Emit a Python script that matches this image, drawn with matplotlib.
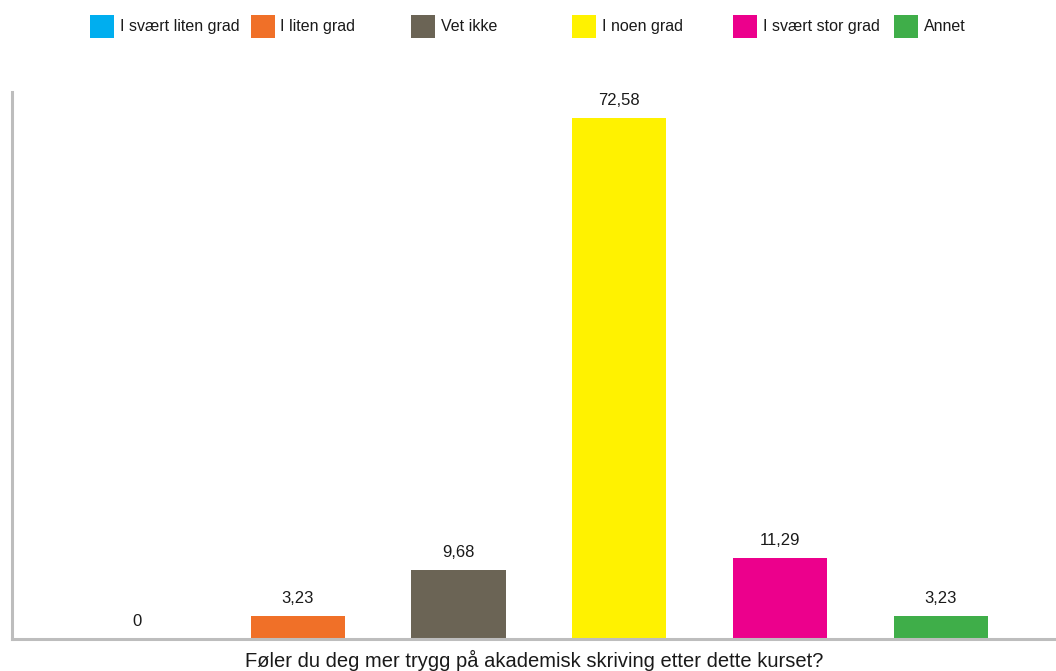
import numpy as np
import matplotlib.pyplot as plt
from matplotlib.patches import Rectangle
from matplotlib.transforms import blended_transform_factory

plt.rcParams['font.family'] = ['Liberation Sans', 'DejaVu Sans']

categories = ['I svært liten grad', 'I liten grad', 'Vet ikke',
              'I noen grad', 'I svært stor grad', 'Annet']
values = [0, 3.23, 9.68, 72.58, 11.29, 3.23]
value_labels = ['0', '3,23', '9,68', '72,58', '11,29', '3,23']
colors = ['#00aeef', '#f07028', '#6b6455', '#fff200', '#ec008c', '#3fae49']
question = 'Føler du deg mer trygg på akademisk skriving etter dette kurset?'

fig = plt.figure(figsize=(10.56, 6.71), dpi=100)
ax = fig.add_axes([12 / 1056, 32 / 671, 1044 / 1056, 547 / 671])

x = np.arange(len(categories))
w = 0.585
ax.bar(x, values, width=w, color=colors, zorder=2)

ax.set_xlim(-0.777, 5.716)
ax.set_ylim(0, 76.2)

for xi, v, lab in zip(x, values, value_labels):
    ax.annotate(lab, (xi, v), xytext=(0, 7), textcoords='offset points',
                ha='center', va='bottom', fontsize=12, color='#1a1a1a')

for s in ['top', 'right']:
    ax.spines[s].set_visible(False)
for s in ['left', 'bottom']:
    ax.spines[s].set_color('#bdbdbd')
    ax.spines[s].set_linewidth(2.2)
ax.set_xticks([])
ax.set_yticks([])

ax.set_xlabel(question, fontsize=14.5, color='#1a1a1a', labelpad=8)

# legend row: swatch aligned with each bar's left edge
tr = blended_transform_factory(ax.transData, fig.transFigure)
sw = 24 / 160.8
for xi, c, name in zip(x, colors, categories):
    left = xi - w / 2
    ax.add_patch(Rectangle((left, 1 - 38 / 671), sw, 23 / 671, transform=tr,
                           facecolor=c, edgecolor='none', clip_on=False))
    ax.text(left + sw + 0.035, 1 - 31 / 671, name, transform=tr,
            ha='left', va='baseline', fontsize=11.5, color='#1a1a1a')

fig.savefig('out.png', dpi=100)
